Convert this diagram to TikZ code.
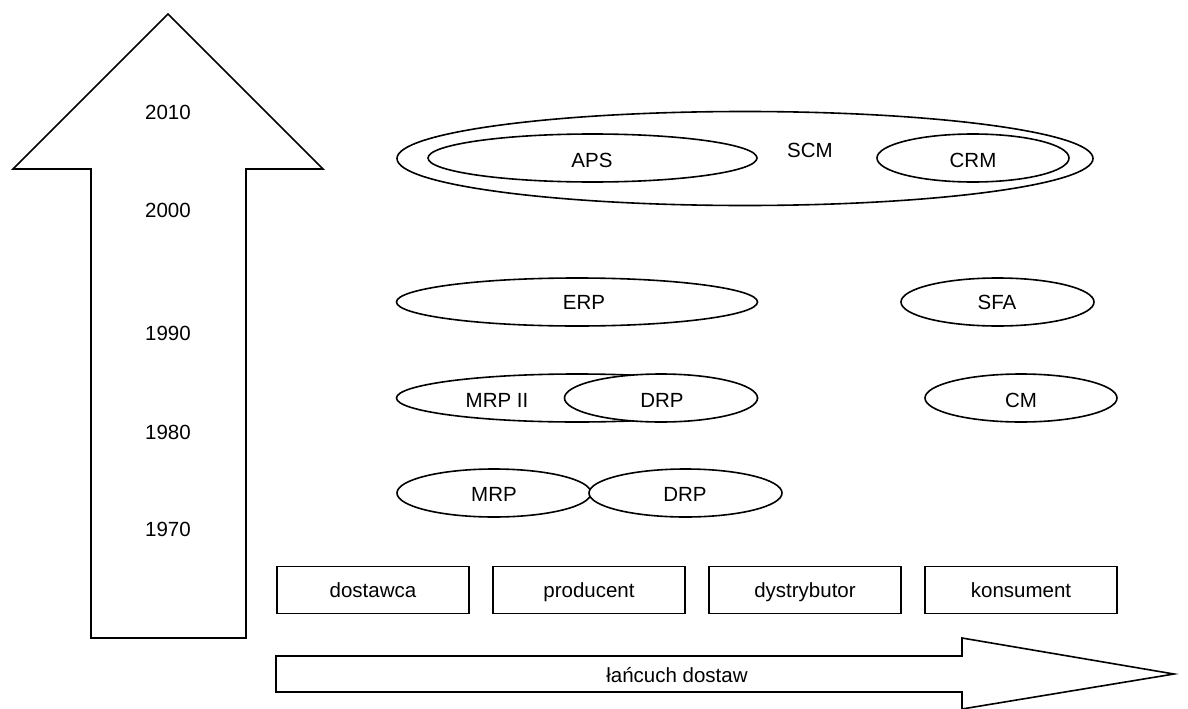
\documentclass[tikz,border=0pt]{standalone}
\usepackage{fontspec}
\setmainfont{Liberation Sans}
\begin{document}
\begin{tikzpicture}[x=1pt,y=-1pt,line width=1.6pt,
  every node/.style={font=\fontsize{20.5}{24}\selectfont},
  lbl/.style={inner sep=0pt,text height=15pt,text depth=0pt},
  stage/.style={draw,minimum width=192pt,minimum height=47pt,inner sep=0pt,
    text height=18pt,text depth=4pt}]
\useasboundingbox (0,0) rectangle (1188,709);
% vertical time arrow
\draw[line join=miter] (91,638) -- (91,169) -- (13,169) -- (168,14) -- (323,169) -- (246,169) -- (246,638) -- cycle;
\node[lbl] (y2010) at (168,112) {2010};
\node[lbl] (y2000) at (168,210) {2000};
\node[lbl] (y1990) at (168,333) {1990};
\node[lbl] (y1980) at (168,432) {1980};
\node[lbl] (y1970) at (168,529) {1970};
% horizontal supply chain arrow
\draw[line join=miter] (276,656) -- (962,656) -- (962,638) -- (1174,674) -- (962,709) -- (962,692) -- (276,692) -- cycle;
\node[lbl] (chain) at (677,675) {łańcuch dostaw};
% stages
\node[stage] (dost) at (373,590) {dostawca};
\node[stage] (prod) at (589,590) {producent};
\node[stage] (dyst) at (805,590) {dystrybutor};
\node[stage] (kons) at (1021,590) {konsument};
% ellipses
\draw (745,158.5) ellipse [x radius=348, y radius=47];
\node[lbl] (scm) at (810,150) {SCM};
\draw[fill=white] (592.5,158) ellipse [x radius=164.5, y radius=24];
\node[lbl] (aps) at (592,160) {APS};
\draw[fill=white] (973,158) ellipse [x radius=96, y radius=24];
\node[lbl] (crm) at (973,160) {CRM};
\draw[fill=white] (577,302) ellipse [x radius=180.5, y radius=24];
\node[lbl] (erp) at (584,302) {ERP};
\draw[fill=white] (997.5,302) ellipse [x radius=96.5, y radius=24];
\node[lbl] (sfa) at (997,302) {SFA};
\draw[fill=white] (577,398) ellipse [x radius=180.5, y radius=24];
\node[lbl] (mrp2) at (497,400) {MRP II};
\draw[fill=white] (661,398) ellipse [x radius=96.5, y radius=24];
\node[lbl] (drp1) at (662,400) {DRP};
\draw[fill=white] (1021,398) ellipse [x radius=96, y radius=24];
\node[lbl] (cm) at (1021,400) {CM};
\draw[fill=white] (494,493) ellipse [x radius=97, y radius=24];
\node[lbl] (mrp) at (494,494) {MRP};
\draw[fill=white] (685.5,493) ellipse [x radius=96.5, y radius=24];
\node[lbl] (drp2) at (685,494) {DRP};
\end{tikzpicture}
\end{document}
